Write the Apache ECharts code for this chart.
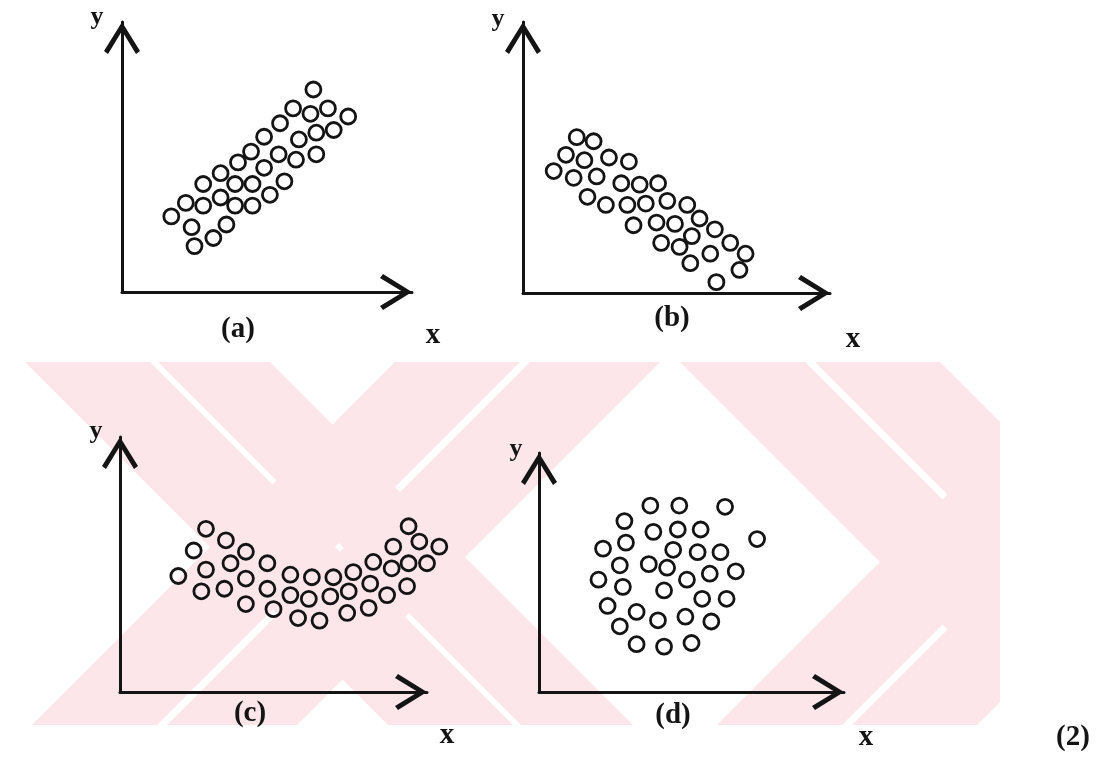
<!DOCTYPE html>
<html>
<head>
<meta charset="utf-8">
<script src="https://cdn.jsdelivr.net/npm/echarts@6/dist/echarts.min.js"></script>
<style>
html,body{margin:0;padding:0;background:#ffffff;}
#chart{width:1099px;height:764px;}
</style>
</head>
<body>
<div id="chart"></div>
<script>
// ---------- data (axis units 0..100) ----------
const panelNames = ['(a)', '(b)', '(c)', '(d)'];
const xAxisName = 'x';
const yAxisName = 'y';
const figureNumber = '(2)';

const pointsA = [[66,75],[59,68],[65,66],[71,68],[78,65],[54.5,62.5],[67,59],[73,60],[49,57.5],[61,56.5],
  [44.5,52],[54,51],[60,49],[67,51],[40,48],[49,46],[34,44],[28,40],[39,40],[45,40],[56,41],[51,36],
  [22,33],[34,35],[28,32],[39,32],[45,32],[17,28],[24,24],[36,25],[31.5,20],[25,17]];

const pointsB = [[17.5,57.5],[23,56],[14,51],[20,49],[28,50],[34.5,48.5],[10,45],[16.5,42.5],[24,43],
  [32,40.5],[38,40],[44,40.5],[21,35.5],[27,32.5],[34,32.5],[40,33],[47,34],[53.5,32.5],[36,25],
  [43.5,26],[49.5,25.5],[57.5,27.5],[62.5,23.5],[55,21],[45,18.5],[51,17],[67.5,18.5],[72.5,14.5],
  [61,14.5],[54.5,11],[70.5,8.5],[63,4]];

const pointsC = [[28,64],[34.5,59.5],[24,55.5],[41,55],[36,50.5],[48,50.5],[19,45.5],[28,48],[41,44.5],
  [55.5,46],[62.5,45],[69.5,45],[76,47],[82.5,51],[89,57],[94,65],[97.5,59],[104,57],[88.5,48.5],
  [94,50.5],[100,50.5],[26.5,39.5],[34,40.5],[48,40.5],[55.5,38],[61.5,36.5],[68.5,37.5],[74.5,39.5],
  [81.5,42.5],[87,38],[93.5,41.5],[41,34.5],[50,32.5],[58,29],[65,28],[74,31],[81,33]];

const pointsD = [[36.5,78],[46,78],[61,77.5],[28,71.5],[37.5,67],[45.5,68],[53,68],[71.5,64],[28.5,62.5],
  [21,60],[44,59.5],[52,58.5],[59.5,58.5],[26.5,53],[36,53.5],[42,52],[56,49.5],[64.5,50.5],[19.5,47],
  [27.5,44],[48.5,47],[41,42.5],[53.5,39],[61.5,39],[22.5,36],[32,33.5],[39,30],[48,31.5],[56.5,29.5],
  [26.5,27.5],[32,20],[41,19],[50,20.5]];

const axisMin = 0;
const axisMax = 100;

// ---------- layout ----------
const panelData = [pointsA, pointsB, pointsC, pointsD];
const grids = [
  {left:122, top:22,  width:290, height:270},
  {left:523, top:22,  width:307, height:271},
  {left:120, top:437, width:307, height:255},
  {left:539, top:453, width:305, height:239}
];
const labelPos = [ // [yLabel, panelName, xLabel]
  {y:[97,17],  name:[238,330], x:[433,336]},
  {y:[498,19], name:[672,319], x:[853,340]},
  {y:[96,431], name:[250,714], x:[447,736]},
  {y:[516,449],name:[673,716], x:[866,738]}
];
const figurePos = [1073,738];

const INK = '#141414';
const FONT_SERIF = '"Liberation Serif","DejaVu Serif",serif';
const chevron = 'path://M18,0 L36,29 L32,32 L18,9 L4,32 L0,29 Z';

// watermark (decorative background)
const WM = {top:362, bottom:725, xmin:0, xmax:1000, color:'#fde6ea'};
const wmBands = [
  [25,150,1],[158,270,1],[395,520,-1],[530,660,-1],
  [680,805,1],[815,940,1],[1080,1205,-1],[1215,1340,-1]
];
function clipX(pts, x, keepLess){
  const out=[]; const n=pts.length;
  for(let i=0;i<n;i++){
    const a=pts[i], b=pts[(i+1)%n];
    const ina = keepLess ? a[0]<=x : a[0]>=x;
    const inb = keepLess ? b[0]<=x : b[0]>=x;
    if(ina) out.push(a);
    if(ina!==inb){ const t=(x-a[0])/(b[0]-a[0]); out.push([x, a[1]+t*(b[1]-a[1])]); }
  }
  return out;
}
const H = WM.bottom - WM.top;
const wmGraphics = wmBands.map(function(b){
  let pts = [[b[0],WM.top],[b[1],WM.top],[b[1]+b[2]*H,WM.bottom],[b[0]+b[2]*H,WM.bottom]];
  pts = clipX(clipX(pts, WM.xmin, false), WM.xmax, true);
  return {type:'polygon', silent:true, z:-10, shape:{points:pts}, style:{fill:WM.color}};
});

function textEl(str, pos, size){
  return {type:'text', x:pos[0], y:pos[1], z:100, silent:true,
    style:{text:str, fill:INK, font:'bold '+size+'px '+FONT_SERIF, align:'center', verticalAlign:'middle'}};
}
const textGraphics = [];
labelPos.forEach(function(p,i){
  textGraphics.push(textEl(yAxisName, p.y, 26));
  textGraphics.push(textEl(panelNames[i], p.name, 29));
  textGraphics.push(textEl(xAxisName, p.x, 29));
});
textGraphics.push(textEl(figureNumber, figurePos, 29));

function axis(i){
  return {
    type:'value', gridIndex:i, min:axisMin, max:axisMax,
    axisLine:{show:true, onZero:false, symbol:['none', chevron], symbolSize:[36,32], symbolOffset:[0,-16],
      lineStyle:{color:INK, width:3}},
    axisTick:{show:false}, axisLabel:{show:false}, splitLine:{show:false}
  };
}

const chart = echarts.init(document.getElementById('chart'), null, {renderer:'canvas'});
chart.setOption({
  backgroundColor:'#ffffff',
  animation:false,
  grid: grids.map(function(g){ return Object.assign({containLabel:false}, g); }),
  xAxis: grids.map(function(g,i){ return axis(i); }),
  yAxis: grids.map(function(g,i){ return axis(i); }),
  graphic: wmGraphics.concat(textGraphics),
  series: panelData.map(function(d,i){
    return {
      type:'scatter', xAxisIndex:i, yAxisIndex:i, data:d, clip:false, silent:true,
      symbol:'circle', symbolSize:15,
      itemStyle:{color:'rgba(255,255,255,0)', borderColor:INK, borderWidth:2.8, opacity:1},
      emphasis:{disabled:true}
    };
  })
});
</script>
</body>
</html>
